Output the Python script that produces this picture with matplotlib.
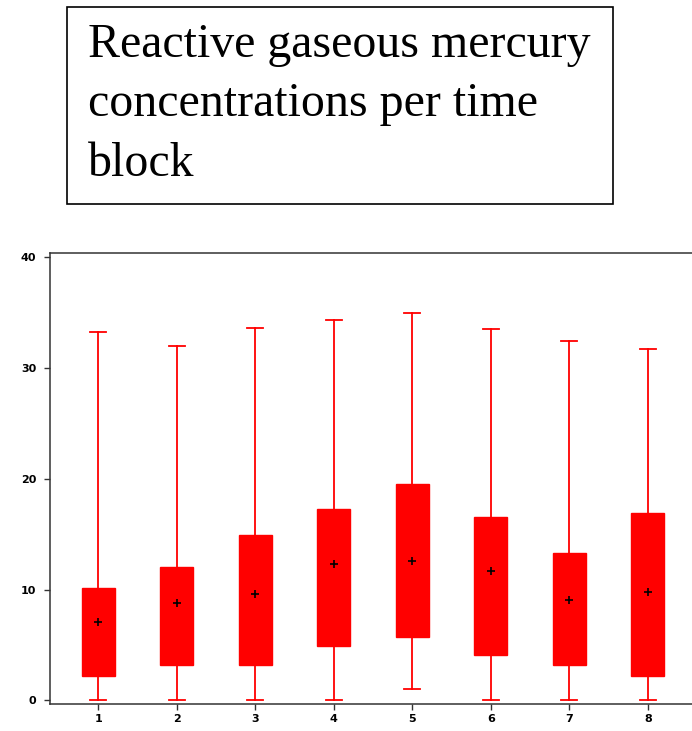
import matplotlib
matplotlib.use('Agg')
import matplotlib.pyplot as plt
from matplotlib.patches import Rectangle

# time blocks and box statistics
blocks = ['1', '2', '3', '4', '5', '6', '7', '8']
whisker_low = [0.0, 0.0, 0.0, 0.0, 1.0, 0.0, 0.0, 0.0]
q1 = [2.2, 3.2, 3.2, 4.9, 5.7, 4.1, 3.2, 2.2]
medians = [6.0, 7.5, 8.5, 11.0, 11.5, 10.5, 8.0, 8.5]
means = [7.1, 8.8, 9.6, 12.3, 12.6, 11.7, 9.1, 9.8]
q3 = [10.1, 12.0, 14.9, 17.3, 19.5, 16.5, 13.3, 16.9]
whisker_high = [33.2, 32.0, 33.6, 34.3, 34.9, 33.5, 32.4, 31.7]
yticks = [0, 10, 20, 30, 40]

title = 'Reactive gaseous mercury\nconcentrations per time\nblock'

W, H = 692, 731
fig = plt.figure(figsize=(W/100, H/100), dpi=100)

# title box
fig.patches.append(Rectangle((67/W, 1-204/H), (613-67)/W, (204-7)/H,
                             transform=fig.transFigure, fill=False,
                             edgecolor='black', linewidth=1.2))
fig.text(88/W, 1-23/H, title, ha='left', va='top', fontsize=34.5,
         family=['Liberation Serif', 'DejaVu Serif'], linespacing=1.45)

# axes: left spine at 50px, top at 253px, bottom at 704px, runs off right edge
ax = fig.add_axes([50/W, 1-704/H, (692-50)/W, (704-253)/H])

stats = []
for i in range(len(blocks)):
    stats.append({'label': blocks[i], 'whislo': whisker_low[i], 'q1': q1[i],
                  'med': medians[i], 'q3': q3[i], 'whishi': whisker_high[i],
                  'mean': means[i]})

red = '#ff0000'
ax.bxp(stats, positions=range(1, len(blocks)+1), widths=0.42, patch_artist=True,
       showmeans=True, showfliers=False,
       boxprops=dict(facecolor=red, edgecolor=red, linewidth=1),
       medianprops=dict(color=red, linewidth=1),
       whiskerprops=dict(color=red, linewidth=1.3),
       capprops=dict(color=red, linewidth=1.3),
       capwidths=0.2,
       meanprops=dict(marker='+', markeredgecolor='black', markersize=6,
                      markeredgewidth=1.2))

ax.set_xlim(1 - 48.3/78.5, 1 + 642/78.5 - 48.3/78.5)
ax.set_ylim(-0.32, 40.35)
ax.set_yticks(yticks)
ax.set_yticklabels([str(t) for t in yticks])

ax.spines['right'].set_visible(False)
for s in ['left', 'top', 'bottom']:
    ax.spines[s].set_linewidth(1.1)
    ax.spines[s].set_color('#333333')

tickfont = ['Liberation Sans Narrow', 'DejaVu Sans']
ax.tick_params(axis='both', direction='out', length=4, width=1, color='#333333')
ax.tick_params(axis='y', pad=6)
ax.tick_params(axis='x', pad=3)
for lab in ax.get_xticklabels() + ax.get_yticklabels():
    lab.set_family(tickfont)
    lab.set_fontsize(8)
    lab.set_fontweight('bold')

plt.savefig('out.png', dpi=100)
plt.close('all')
